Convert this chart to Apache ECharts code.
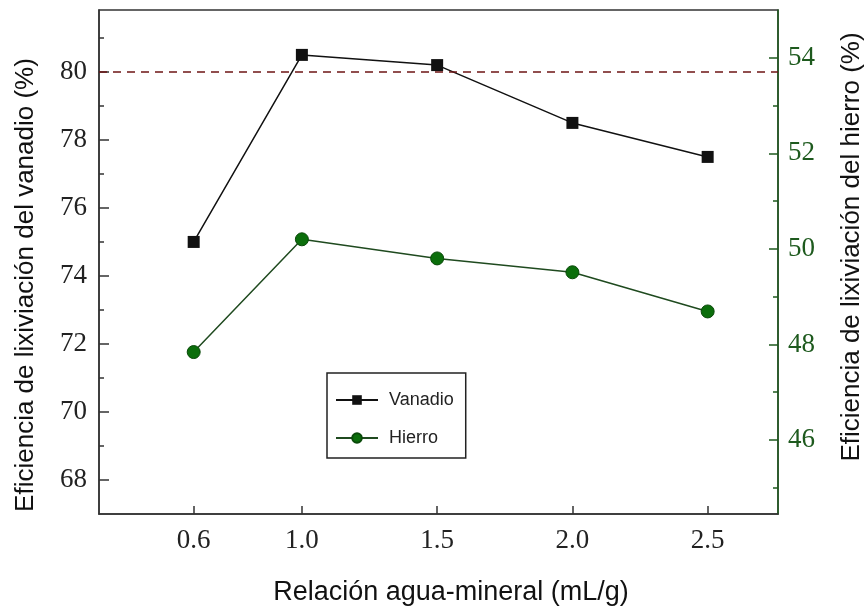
<!DOCTYPE html>
<html>
<head>
<meta charset="utf-8">
<script src="https://cdn.jsdelivr.net/npm/echarts@6/dist/echarts.min.js"></script>
<style>html,body{margin:0;padding:0;background:#fff}#c{width:868px;height:609px}</style>
</head>
<body>
<div id="c"></div>
<script>
// ---- data ----
const ratios = [0.6, 1.0, 1.5, 2.0, 2.5];
const vanadio = [75.0, 80.5, 80.2, 78.5, 77.5];
const hierro = [47.84, 50.2, 49.8, 49.51, 48.69];
const xTickLabels = [0.6, 1.0, 1.5, 2.0, 2.5];
const leftTicks = [68, 70, 72, 74, 76, 78, 80];
const leftMinor = [69, 71, 73, 75, 77, 79, 81];
const rightTicks = [46, 48, 50, 52, 54];
const rightMinor = [45, 47, 49, 51, 53];
const refLine = 80;

const serif = '"Liberation Serif", "Times New Roman", serif';
const sans = '"Liberation Sans", Arial, sans-serif';
const green = '#1e5a1e';

const chart = echarts.init(document.getElementById('c'), null, {renderer: 'canvas'});
chart.setOption({
  backgroundColor: '#fff',
  animation: false,
  grid: {left: 99, right: 90, top: 10, bottom: 95, show: true, borderColor: '#333', borderWidth: 1.5, backgroundColor: 'transparent'},
  legend: {
    orient: 'vertical', left: 327, top: 373,
    borderColor: '#222', borderWidth: 1.5, borderRadius: 0,
    padding: [18, 12, 11, 8], itemGap: 20,
    itemWidth: 42, itemHeight: 12,
    textStyle: {fontFamily: sans, fontSize: 18, color: '#222', padding: [0, 0, 0, 6]},
    data: ['Vanadio', 'Hierro']
  },
  xAxis: {
    type: 'value', min: 0.25, max: 2.76,
    axisLine: {show: true, lineStyle: {color: '#333', width: 1.5}},
    axisTick: {show: true, inside: true, length: 8, customValues: xTickLabels, lineStyle: {color: '#333', width: 1.5}},
    axisLabel: {customValues: xTickLabels, formatter: v => v.toFixed(1), fontFamily: serif, fontSize: 27, color: '#222', margin: 13},
    splitLine: {show: false}
  },
  yAxis: [
    {
      type: 'value', position: 'left', min: 67, max: 81.82,
      axisLine: {show: true, lineStyle: {color: '#333', width: 1.5}},
      axisTick: {show: true, inside: true, length: 10, customValues: leftTicks, lineStyle: {color: '#333', width: 1.5}},
      axisLabel: {customValues: leftTicks, fontFamily: serif, fontSize: 27, color: '#222', margin: 12},
      splitLine: {show: false}
    },
    {
      type: 'value', position: 'right', min: 44.45, max: 55,
      axisLine: {show: true, lineStyle: {color: green, width: 1.5}},
      axisTick: {show: true, inside: true, length: 9, customValues: rightTicks, lineStyle: {color: green, width: 1.5}},
      axisLabel: {customValues: rightTicks, fontFamily: serif, fontSize: 27, color: green, margin: 10},
      splitLine: {show: false}
    },
    {
      type: 'value', position: 'left', min: 67, max: 81.82,
      axisLine: {show: false},
      axisTick: {show: true, inside: true, length: 5, customValues: leftMinor, lineStyle: {color: '#333', width: 1.5}},
      axisLabel: {show: false},
      splitLine: {show: false}
    },
    {
      type: 'value', position: 'right', min: 44.45, max: 55,
      axisLine: {show: false},
      axisTick: {show: true, inside: true, length: 5, customValues: rightMinor, lineStyle: {color: green, width: 1.5}},
      axisLabel: {show: false},
      splitLine: {show: false}
    }
  ],
  series: [
    {
      name: 'Vanadio', type: 'line', yAxisIndex: 0,
      data: ratios.map((x, i) => [x, vanadio[i]]),
      symbol: 'rect', symbolSize: 12,
      lineStyle: {color: '#111', width: 1.5},
      itemStyle: {color: '#111'},
      markLine: {
        silent: true, symbol: 'none', label: {show: false},
        lineStyle: {color: '#6e1414', type: [8, 6], width: 1.5},
        data: [{yAxis: refLine}]
      },
      z: 3
    },
    {
      name: 'Hierro', type: 'line', yAxisIndex: 1,
      data: ratios.map((x, i) => [x, hierro[i]]),
      symbol: 'circle', symbolSize: 13,
      lineStyle: {color: '#1f4a1f', width: 1.5},
      itemStyle: {color: '#0b6e0b', borderColor: '#0a4a0a', borderWidth: 1},
      z: 3
    }
  ],
  graphic: [
    {type: 'text', x: 26, y: 285, rotation: Math.PI / 2,
     style: {text: 'Eficiencia de lixiviación del vanadio (%)', font: '26px ' + sans, fill: '#111', textAlign: 'center', textVerticalAlign: 'middle'}},
    {type: 'text', x: 852, y: 247, rotation: Math.PI / 2,
     style: {text: 'Eficiencia de lixiviación del hierro (%)', font: '26px ' + sans, fill: '#111', textAlign: 'center', textVerticalAlign: 'middle'}},
    {type: 'text', x: 451, y: 593,
     style: {text: 'Relación agua-mineral (mL/g)', font: '27px ' + sans, fill: '#111', textAlign: 'center', textVerticalAlign: 'middle'}}
  ]
});
</script>
</body>
</html>
